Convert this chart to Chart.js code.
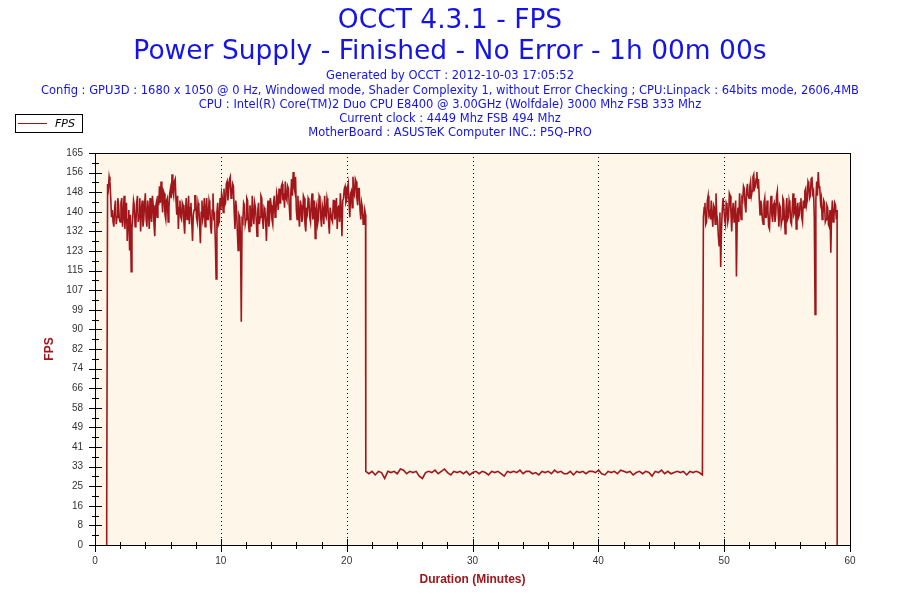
<!DOCTYPE html>
<html>
<head>
<meta charset="utf-8">
<script src="https://cdn.jsdelivr.net/npm/chart.js@4.4.0/dist/chart.umd.min.js"></script>
<style>
  html, body { margin: 0; background: #fff; }
</style>
</head>
<body>
<canvas id="fpsChart" width="900" height="600"></canvas>
<script>
const titleLines = ['OCCT 4.3.1 - FPS', 'Power Supply - Finished - No Error - 1h 00m 00s'];
const infoLines = [
  'Generated by OCCT : 2012-10-03 17:05:52',
  'Config : GPU3D : 1680 x 1050 @ 0 Hz, Windowed mode, Shader Complexity 1, without Error Checking ; CPU:Linpack : 64bits mode, 2606,4MB',
  'CPU : Intel(R) Core(TM)2 Duo CPU E8400 @ 3.00GHz (Wolfdale) 3000 Mhz FSB 333 Mhz',
  'Current clock : 4449 Mhz FSB 494 Mhz',
  'MotherBoard : ASUSTeK Computer INC.: P5Q-PRO'
];
const seriesName = 'FPS';
const xTitle = 'Duration (Minutes)';
const yTitle = 'FPS';

const xTickLabels = ['0', '10', '20', '30', '40', '50', '60'];
const yTickLabels = ['0', '8', '16', '25', '33', '41', '49', '58', '66', '74', '82',
  '90', '99', '107', '115', '123', '132', '140', '148', '156', '165'];
const yMax = 165;

// start-up: counter comes up from 0
const rampMinutes = [0.92, 0.93];
const rampFps = [0, 12];

// first loaded phase, one sample every 3.75 s from minute 1
const highStart1 = 1.0;
const highStep = 0.0625;
const highFps1 = [
  152, 150, 155, 153, 146, 138, 141, 136, 134, 142, 145, 135, 138, 146, 143, 137,
  136, 144, 146, 134, 139, 147, 133, 140, 144, 128, 137, 141, 124, 139, 115, 133,
  138, 145, 143, 134, 135, 144, 147, 136, 139, 146, 132, 141, 145, 134, 137, 143,
  148, 137, 134, 145, 141, 133, 146, 139, 136, 147, 143, 135, 130, 142, 144, 138,
  147, 143, 151, 144, 153, 146, 140, 149, 148, 139, 137, 145, 146, 136, 142, 148,
  150, 146, 156, 149, 147, 153, 154, 145, 139, 147, 133, 142, 145, 138, 137, 144,
  143, 136, 131, 140, 146, 137, 138, 147, 135, 142, 144, 136, 128, 139, 141, 147,
  147, 138, 136, 144, 142, 135, 127, 140, 145, 137, 139, 146, 134, 141, 146, 137,
  137, 145, 143, 134, 131, 141, 148, 138, 139, 128, 112, 140, 144, 135, 136, 146,
  141, 148, 146, 140, 150, 143, 144, 152, 153, 145, 149, 154, 155, 146, 147, 152,
  151, 140, 133, 145, 141, 132, 124, 139, 138, 130, 94, 137, 136, 144, 143, 135,
  137, 146, 145, 136, 132, 143, 140, 134, 147, 139, 135, 144, 142, 137, 130, 141,
  144, 135, 138, 147, 146, 137, 133, 142, 141, 136, 128, 140, 145, 134, 137, 146,
  143, 137, 135, 144, 147, 138, 139, 148, 146, 141, 150, 144, 144, 151, 152, 145,
  148, 142, 153, 146, 145, 151, 150, 143, 137, 148, 154, 147, 157, 151, 149, 155,
  141, 137, 147, 139, 134, 145, 143, 136, 138, 147, 146, 135, 132, 142, 140, 146,
  145, 138, 136, 144, 148, 137, 139, 145, 129, 141, 143, 135, 137, 147, 146, 138,
  134, 143, 141, 135, 147, 139, 138, 146, 144, 136, 131, 142, 142, 137, 136, 145,
  145, 137, 139, 146, 133, 142, 143, 136, 148, 141, 130, 145, 146, 150, 151, 144,
  145, 150, 152, 144, 138, 148, 149, 142, 155, 148, 147, 154, 153, 146, 143, 150,
  150, 141, 137, 144, 142, 135, 136, 141, 139
];

// throttled phase, one sample every 15 s
const lowStart = 21.52;
const lowStep = 0.25;
const lowFps = [
  31, 30, 31, 29.5, 31, 30.5, 28, 31, 30.5, 31, 30, 32, 31.5, 30, 31, 30.5,
  31, 29, 28, 30.5, 31, 30.5, 31.5, 30, 31, 32, 30.5, 29.5, 31, 30.5, 31, 30,
  31, 29.5, 30.5, 31, 30, 31, 30.5, 29.5, 31, 30.5, 31, 30, 29, 31, 30.5, 31,
  30.5, 31.5, 30, 31, 31, 30, 30.5, 29.5, 31, 30.5, 31, 30, 31.5, 30.5, 31, 30,
  30, 31, 29.5, 31, 30.5, 31, 30, 31, 31, 30.5, 31.5, 30, 29.5, 31, 30.5, 31,
  30, 31.5, 31, 30.5, 31, 29.5, 30.5, 31, 30, 31, 30.5, 29, 31, 30.5, 31.5, 30,
  31, 30, 30.5, 31, 30.5, 31, 29.5, 31, 30.5, 31, 30.5, 29.5
];

// second loaded phase
const highStart2 = 48.35;
const highFps2 = [
  138, 142, 144, 135, 136, 145, 147, 139, 140, 137,
  145, 138, 134, 143, 142, 135, 148, 139, 137, 130, 126, 140, 117, 133, 141, 146,
  146, 137, 135, 144, 143, 136, 138, 148, 147, 140, 132, 141, 144, 136, 139, 145,
  113, 138, 142, 136, 148, 141, 137, 146, 145, 151, 150, 143, 140, 149, 152, 147,
  146, 151, 153, 147, 149, 155, 156, 150, 151, 154, 157, 150, 154, 146, 139, 145,
  143, 137, 135, 144, 146, 138, 138, 145, 141, 134, 133, 142, 147, 139, 136, 143,
  144, 136, 139, 147, 149, 140, 134, 143, 142, 135, 137, 146, 145, 138, 131, 141,
  146, 137, 138, 145, 143, 136, 135, 142, 148, 139, 140, 146, 133, 141, 144, 138,
  139, 144, 146, 138, 136, 145, 142, 149, 150, 143, 145, 153, 152, 146, 147, 154,
  155, 148, 149, 138, 97, 145, 153, 147, 157, 151, 150, 144, 146, 137, 139, 145,
  144, 136, 137, 143, 142, 135, 134, 141, 123, 139, 145, 136, 138, 144, 143, 137,
  141
];

// test stopped
const endMinutes = [58.98];
const endFps = [0];

const LINE_COLOR = '#a0161a';
const BLUE = '#1414e6';

function seg(start, step, vals) {
  return vals.map((v, i) => ({ x: start + i * step, y: v }));
}

const points = [
  ...rampMinutes.map((m, i) => ({ x: m, y: rampFps[i] })),
  ...seg(highStart1, highStep, highFps1),
  ...seg(lowStart, lowStep, lowFps),
  ...seg(highStart2, highStep, highFps2),
  ...endMinutes.map((m, i) => ({ x: m, y: endFps[i] }))
];

const occtDecor = {
  id: 'occtDecor',
  beforeDraw(chart) {
    const { ctx, chartArea: a } = chart;
    ctx.save();
    ctx.fillStyle = '#fff';
    ctx.fillRect(0, 0, chart.width, chart.height);
    ctx.fillStyle = '#fdf6e9';
    ctx.fillRect(a.left, a.top, a.right - a.left, a.bottom - a.top);
    ctx.restore();
  },
  beforeDatasetsDraw(chart) {
    const { ctx, chartArea: a, scales } = chart;
    ctx.save();
    ctx.strokeStyle = '#000';
    ctx.lineWidth = 1;
    ctx.setLineDash([1, 3]);
    xTickLabels.slice(1, -1).forEach(l => {
      const x = Math.round(scales.x.getPixelForValue(Number(l))) + 0.5;
      ctx.beginPath();
      ctx.moveTo(x, a.top);
      ctx.lineTo(x, a.bottom);
      ctx.stroke();
    });
    ctx.restore();
  },
  afterDatasetsDraw(chart) {
    const { ctx, chartArea: a, scales } = chart;
    ctx.save();
    ctx.strokeStyle = '#000';
    ctx.lineWidth = 1;
    ctx.strokeRect(a.left + 0.5, a.top + 0.5, a.right - a.left, a.bottom - a.top);

    const yTicks = scales.y.ticks;
    ctx.beginPath();
    yTicks.forEach((t, i) => {
      const y = Math.round(scales.y.getPixelForValue(t.value)) + 0.5;
      ctx.moveTo(a.left - 6, y);
      ctx.lineTo(a.left + 7, y);
      if (i < yTicks.length - 1) {
        const ym = Math.round(scales.y.getPixelForValue((t.value + yTicks[i + 1].value) / 2)) + 0.5;
        ctx.moveTo(a.left - 3, ym);
        ctx.lineTo(a.left + 4, ym);
      }
    });
    for (let m = 0; m <= 60; m += 2) {
      const x = Math.round(scales.x.getPixelForValue(m)) + 0.5;
      const len = m % 10 === 0 ? 6 : 3;
      ctx.moveTo(x, a.bottom - len);
      ctx.lineTo(x, a.bottom + len + 1);
    }
    ctx.stroke();
    ctx.restore();
  },
  afterDraw(chart) {
    const { ctx, chartArea: a } = chart;
    ctx.save();
    ctx.textAlign = 'center';
    ctx.textBaseline = 'middle';
    ctx.fillStyle = BLUE;
    ctx.font = '26.5px "DejaVu Sans"';
    ctx.fillText(titleLines[0], 450, 21);
    ctx.fillText(titleLines[1], 450, 52);
    ctx.font = '11.5px "DejaVu Sans"';
    infoLines.forEach((t, i) => ctx.fillText(t, 450, 76.5 + i * 14.25));

    // axis titles
    ctx.fillStyle = LINE_COLOR;
    ctx.font = 'bold 12px "Liberation Sans"';
    ctx.fillText(xTitle, (a.left + a.right) / 2, 580);
    ctx.translate(50, (a.top + a.bottom) / 2);
    ctx.rotate(-Math.PI / 2);
    ctx.fillText(yTitle, 0, 0);
    ctx.setTransform(1, 0, 0, 1, 0, 0);

    // legend box
    ctx.strokeStyle = '#000';
    ctx.lineWidth = 1;
    ctx.strokeRect(15.5, 114.5, 67, 18);
    ctx.strokeStyle = LINE_COLOR;
    ctx.beginPath();
    ctx.moveTo(18, 123.5);
    ctx.lineTo(47, 123.5);
    ctx.stroke();
    ctx.fillStyle = '#000';
    ctx.textAlign = 'left';
    ctx.font = 'italic 11px "DejaVu Sans"';
    ctx.fillText(seriesName, 55, 124);
    ctx.restore();
  }
};

new Chart(document.getElementById('fpsChart'), {
  type: 'line',
  data: {
    datasets: [{
      label: seriesName,
      data: points,
      borderColor: LINE_COLOR,
      borderWidth: 1.6,
      pointRadius: 0,
      tension: 0,
      fill: false
    }]
  },
  options: {
    responsive: false,
    animation: false,
    devicePixelRatio: 1,
    layout: { padding: { top: 153, right: 50, left: 0, bottom: 0 } },
    plugins: { legend: { display: false }, title: { display: false }, tooltip: { enabled: false } },
    scales: {
      x: {
        type: 'linear',
        min: 0,
        max: 60,
        afterBuildTicks: s => { s.ticks = xTickLabels.map(l => ({ value: Number(l) })); },
        afterFit: s => { s.height = 55; },
        grid: { display: false, drawTicks: false },
        border: { display: false },
        ticks: {
          padding: 10,
          maxRotation: 0,
          autoSkip: false,
          color: '#333',
          font: { family: 'Liberation Sans', size: 10 },
          callback: (v, i) => xTickLabels[i]
        }
      },
      y: {
        min: 0,
        max: yMax,
        afterBuildTicks: s => {
          s.ticks = yTickLabels.map((l, i) => ({ value: i * yMax / (yTickLabels.length - 1) }));
        },
        afterFit: s => { s.width = 95; },
        grid: { display: false, drawTicks: false },
        border: { display: false },
        ticks: {
          padding: 12,
          autoSkip: false,
          color: '#333',
          font: { family: 'Liberation Sans', size: 10 },
          callback: (v, i) => yTickLabels[i]
        }
      }
    }
  },
  plugins: [occtDecor]
});
</script>
</body>
</html>
